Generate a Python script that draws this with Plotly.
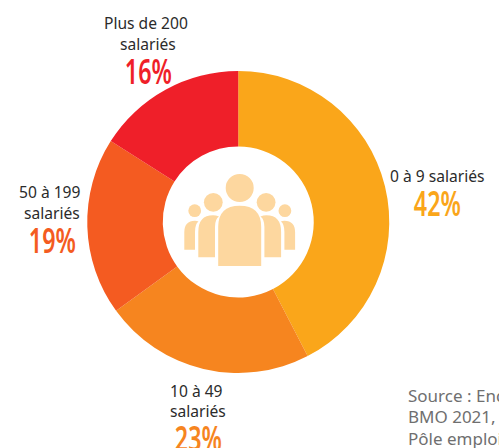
import plotly.graph_objects as go

W, H = 499, 448
categories = ["0 à 9 salariés", "10 à 49 salariés", "50 à 199 salariés", "Plus de 200 salariés"]
values = [42.4, 22.6, 19, 16]
colors = ["#FAA61A", "#F6851F", "#F45B21", "#EF1F29"]
ICON = "#FDD79F"
LABEL_FONT = "Noto Sans"
PCT_FONT = "Noto Sans"

fig = go.Figure(go.Pie(
    labels=categories, values=values, hole=0.5, sort=False, direction="clockwise",
    rotation=0, textinfo="none", hoverinfo="label+percent",
    marker=dict(colors=colors, line=dict(width=0)),
    domain=dict(x=[87/W, 389.5/W], y=[1-373/H, 1-71/H]), showlegend=False,
))

def px(x): return x / W
def py(y): return 1 - y / H

def note(x, y, text, size, color, font=LABEL_FONT, anchor="center", weight=400):
    fig.add_annotation(x=px(x), y=py(y), xref="paper", yref="paper", text=text, showarrow=False,
                       xanchor=anchor, yanchor="middle", align=anchor,
                       font=dict(family=font, size=size, color=color, weight=weight))

DARK = "#2b2b2b"
LS = 15.6
PS = 34
PW = 600
note(146, 22.5, "Plus de 200", LS, DARK)
note(148, 43.5, "salariés", LS, DARK)
note(148.5, 71, "16%", PS, colors[3], PCT_FONT, weight=PW)
note(437, 175.5, "0 à 9 salariés", LS, DARK)
note(437, 203, "42%", PS, colors[0], PCT_FONT, weight=PW)
note(50, 191.5, "50 à 199", LS, DARK)
note(52, 212.5, "salariés", LS, DARK)
note(52, 240, "19%", PS, colors[2], PCT_FONT, weight=PW)
note(196, 390.5, "10 à 49", LS, DARK)
note(198, 410.5, "salariés", LS, DARK)
note(198, 438, "23%", PS, colors[1], PCT_FONT, weight=PW)
GREY = "#6f6f6f"
note(406, 395, "Source : Enquête", 17, GREY, anchor="left")
note(406, 416.7, "BMO 2021,", 17, GREY, anchor="left")
note(406, 438, "Pôle emploi", 17, GREY, anchor="left")

def circle(cx, cy, r):
    fig.add_shape(type="circle", xref="paper", yref="paper", x0=px(cx-r), x1=px(cx+r),
                  y0=py(cy+r), y1=py(cy-r), fillcolor=ICON, line_width=0, layer="above")

def path(points, mirror=False):
    out = []
    for cmd, *pts in points:
        s = cmd
        for (x, y) in pts:
            xx = 2*239.7 - x if mirror else x
            s += f"{px(xx):.5f},{py(y):.5f} "
        out.append(s)
    fig.add_shape(type="path", xref="paper", yref="paper", path=" ".join(out) + "Z",
                  fillcolor=ICON, line_width=0, layer="above")

circle(239.7, 188, 14)
for m in (False, True):
    cxm = 213.3 if not m else 266.1
    cxs = 194.7 if not m else 284.9
    circle(cxm, 202.3, 9.4)
    circle(cxs, 210.7, 6.4)
    path([("M", (198.3, 257.3)), ("L", (215, 257.3)), ("L", (215, 227)), ("Q", (215, 219), (219, 216.5)),
          ("Q", (216, 215.3), (213, 215.3)), ("Q", (198.3, 215.3), (198.3, 232))], m)
    path([("M", (184.3, 249.7)), ("L", (195, 249.7)), ("L", (195, 232)), ("Q", (195, 224), (198.5, 221.5)),
          ("Q", (197, 220.7), (195, 220.7)), ("Q", (184.3, 221), (184.3, 232))], m)
path([("M", (218.2, 266)), ("L", (261.2, 266)), ("L", (261.2, 227)), ("Q", (261.2, 205.7), (239.7, 205.7)),
      ("Q", (218.2, 205.7), (218.2, 227))])

fig.update_layout(width=W, height=H, margin=dict(l=0, r=0, t=0, b=0), paper_bgcolor="white")
post = """
document.body.style.margin = '0';
document.querySelectorAll('.annotation-text').forEach(function (t) {
  if (t.textContent.endsWith('%')) {
    t.setAttribute('textLength', '47');
    t.setAttribute('lengthAdjust', 'spacingAndGlyphs');
  }
});
"""
fig.write_html("out.html", config={"displayModeBar": False}, post_script=post)
